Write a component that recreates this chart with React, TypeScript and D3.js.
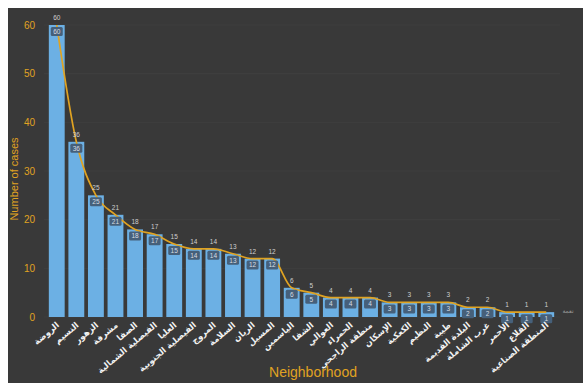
import React from "react";
import * as d3 from "d3";

const neighborhoods = [
  "الروضة", "النسيم", "الزهور", "مشرفة", "الصفا", "الفيصلية الشمالية",
  "العليا", "الفيصلية الجنوبية", "المروج", "السلامة", "الريان", "المسيل",
  "الياسمين", "الشفا", "العوالي", "الحمراء", "منطقة الراجحي", "الإسكان",
  "الكعكية", "النظيم", "طيبة", "البلدة القديمة", "غرب الشاملة", "الأحمر",
  "القلاع", "المنطقة الصناعية",
];
const cases = [60, 36, 25, 21, 18, 17, 15, 14, 14, 13, 12, 12, 6, 5, 4, 4, 4, 3, 3, 3, 3, 2, 2, 1, 1, 1];
const yTicks = [0, 10, 20, 30, 40, 50, 60];

const W = 583;
const H = 385;
const ORANGE = "#e0a322";

export default function App() {
  const x = d3.scaleBand<string>().domain(neighborhoods).range([45.1, 557.9]).padding(0.19);
  const y = d3.scaleLinear().domain([0, 60]).range([317, 25]);
  const cx = (n: string) => (x(n) as number) + x.bandwidth() / 2;

  const line = d3
    .line<number>()
    .x((_, i) => cx(neighborhoods[i]))
    .y((v) => y(v))
    .curve(d3.curveMonotoneX);

  return (
    <svg width={W} height={H} style={{ position: "absolute", left: 0, top: 0, background: "#fff" }}>
      <rect x={8} y={8} width={W - 8} height={H - 10} fill="#393939" />
      {yTicks.map((t) => (
        <g key={t}>
          <line x1={44} x2={560} y1={y(t)} y2={y(t)} stroke="#3f3f3f" strokeWidth={1} />
          <text x={35} y={y(t)} dy="0.35em" textAnchor="end" fill={ORANGE} fontSize={10} fontFamily="Liberation Sans, Arial, sans-serif">
            {t}
          </text>
        </g>
      ))}
      <text
        transform={`translate(18,${(y(0) + y(60)) / 2 + 8}) rotate(-90)`}
        textAnchor="middle"
        fill={ORANGE}
        fontSize={11}
        fontFamily="Liberation Sans, Arial, sans-serif"
      >
        Number of cases
      </text>

      {neighborhoods.map((n, i) => (
        <rect key={n} x={x(n)} y={y(cases[i])} width={x.bandwidth()} height={y(0) - y(cases[i])} fill="#6cb0e4" />
      ))}

      <path d={line(cases) || ""} fill="none" stroke={ORANGE} strokeWidth={1.7} />

      {neighborhoods.map((n, i) => {
        const v = cases[i];
        const top = y(v);
        return (
          <g key={`lbl-${n}`} fontFamily="Liberation Sans, Arial, sans-serif">
            <text x={cx(n)} y={top - 5} textAnchor="middle" fill="#cfcfcf" fontSize={6.5}>
              {v}
            </text>
            <rect x={cx(n) - 6} y={top + 2} width={12} height={9} rx={1.5} fill="#46607a" />
            <text x={cx(n)} y={top + 6.6} dy="0.35em" textAnchor="middle" fill="#d8dde2" fontSize={6.5}>
              {v}
            </text>
          </g>
        );
      })}

      {neighborhoods.map((n) => (
        <text
          key={`x-${n}`}
          transform={`translate(${cx(n) + 3},${y(0) + 9}) rotate(-40)`}
          textAnchor="end"
          fill="#f2f2f2"
          fontSize={8.5}
          fontWeight="bold"
          fontFamily="DejaVu Sans, sans-serif"
        >
          {n}
        </text>
      ))}

      <text x={568} y={313} textAnchor="middle" fill="#9a9a9a" fontSize={6} fontFamily="DejaVu Sans, sans-serif">
        نعمة
      </text>

      <text x={313} y={377} textAnchor="middle" fill={ORANGE} fontSize={14} fontFamily="Liberation Sans, Arial, sans-serif">
        Neighborhood
      </text>
    </svg>
  );
}
